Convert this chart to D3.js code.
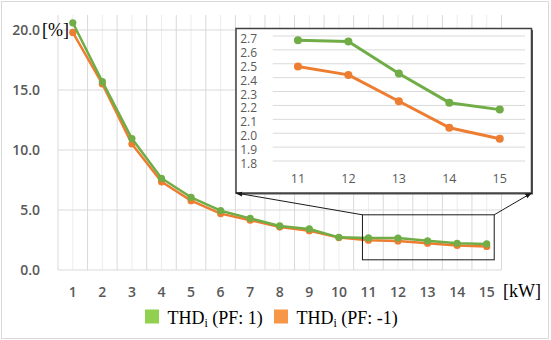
<!DOCTYPE html>
<html><head><meta charset="utf-8">
<script src="https://cdn.jsdelivr.net/npm/d3@7/dist/d3.min.js"></script>
<style>
html,body{margin:0;padding:0;background:#fff;}
svg{display:block;}
</style></head>
<body>
<svg id="chart" width="551" height="340"></svg>
<script>
const categories = ["1","2","3","4","5","6","7","8","9","10","11","12","13","14","15"];
const thdPF1  = [20.6, 15.7, 10.95, 7.64, 6.06, 4.94, 4.3, 3.67, 3.42, 2.72, 2.67, 2.66, 2.43, 2.22, 2.17];
const thdPFm1 = [19.8, 15.5, 10.5, 7.35, 5.78, 4.7, 4.15, 3.58, 3.27, 2.7, 2.48, 2.42, 2.23, 2.04, 1.96];
const yTicks = [0, 5, 10, 15, 20];
const zoomCats = ["11","12","13","14","15"];
const insetTicks = [1.8, 1.9, 2.0, 2.1, 2.2, 2.3, 2.4, 2.5, 2.6, 2.7];
const seriesNames = ["PF: 1", "PF: -1"];

const green = "#70ad47", orange = "#ed7d31";
const greenLeg = "#92d050", orangeLeg = "#f79646";
const labelFont = "'Open Sans', sans-serif";
const serif = "'Liberation Serif', 'Times New Roman', serif";

const svg = d3.select("#chart");
svg.append("rect").attr("x",1.5).attr("y",1.5).attr("width",547).attr("height",337)
  .attr("fill","#fff").attr("stroke","#d9d9d9").attr("stroke-width",1);

// main scales
const x = d3.scaleBand().domain(categories).range([58, 501.5]).paddingInner(0).paddingOuter(0);
const bw = x.bandwidth();
const cx = c => x(c) + bw/2;
const y = d3.scaleLinear().domain([0, 21.25]).range([270, 15]);

const g = svg.append("g");
categories.forEach(c => {
  g.append("line").attr("x1",cx(c)).attr("x2",cx(c)).attr("y1",y(21.25)).attr("y2",y(0))
    .attr("stroke","#ededed").attr("stroke-width",1);
});
categories.concat(["end"]).forEach((c,i) => {
  const xx = c==="end" ? x.range()[1] : x(c);
  g.append("line").attr("x1",xx).attr("x2",xx).attr("y1",y(21.25)).attr("y2",y(0))
    .attr("stroke","#d9d9d9").attr("stroke-width",1);
});
yTicks.forEach(t => {
  g.append("line").attr("x1",x.range()[0]).attr("x2",x.range()[1]).attr("y1",y(t)).attr("y2",y(t))
    .attr("stroke","#d9d9d9").attr("stroke-width",1);
  g.append("text").attr("x",40).attr("y",y(t)+5).attr("text-anchor","end")
    .attr("font-family",labelFont).attr("font-weight",600).attr("font-size",14).attr("fill","#595959")
    .text(t.toFixed(1));
});
categories.forEach(c => {
  g.append("text").attr("x",cx(c)).attr("y",297).attr("text-anchor","middle")
    .attr("font-family",labelFont).attr("font-weight",600).attr("font-size",14).attr("fill","#595959")
    .text(c);
});
g.append("text").attr("x",42).attr("y",36).attr("font-family",serif).attr("font-size",18).attr("fill","#000").text("[%]");
g.append("text").attr("x",503).attr("y",297).attr("font-family",serif).attr("font-size",18).attr("fill","#000").text("[kW]");

function drawSeries(parent, xs, ys, cats, vals, color, w, r){
  const line = d3.line().x((d,i)=>xs(cats[i])).y(d=>ys(d));
  parent.append("path").datum(vals).attr("d",line).attr("fill","none")
    .attr("stroke",color).attr("stroke-width",w).attr("stroke-linejoin","round");
  parent.selectAll(null).data(vals).enter().append("circle")
    .attr("cx",(d,i)=>xs(cats[i])).attr("cy",d=>ys(d)).attr("r",r).attr("fill",color);
}
drawSeries(g, cx, y, categories, thdPFm1, orange, 2.5, 3.6);
drawSeries(g, cx, y, categories, thdPF1, green, 2.5, 3.6);

// zoom rectangle
const zx0 = cx("11") - 6, zx1 = cx("15") + 7.5;
const zy0 = y(4.6), zy1 = y(0.85);
g.append("rect").attr("x",zx0).attr("y",zy0).attr("width",zx1-zx0).attr("height",zy1-zy0)
  .attr("fill","none").attr("stroke","#1a1a1a").attr("stroke-width",1);

// inset
const ib = {x0:236, y0:28.5, x1:531.5, y1:193};
const defs = svg.append("defs");
defs.append("marker").attr("id","arr").attr("viewBox","0 0 10 10").attr("refX",9).attr("refY",5)
  .attr("markerWidth",7).attr("markerHeight",7).attr("orient","auto-start-reverse")
  .append("path").attr("d","M0,1.5 L10,5 L0,8.5 Z").attr("fill","#1a1a1a");

svg.append("rect").attr("x",ib.x0+1.5).attr("y",ib.y0+1.5).attr("width",ib.x1-ib.x0).attr("height",ib.y1-ib.y0)
  .attr("fill","#555");
svg.append("rect").attr("x",ib.x0).attr("y",ib.y0).attr("width",ib.x1-ib.x0).attr("height",ib.y1-ib.y0)
  .attr("fill","#fff").attr("stroke","#404040").attr("stroke-width",1.5);

svg.append("line").attr("x1",zx0).attr("y1",zy0).attr("x2",ib.x0).attr("y2",ib.y1)
  .attr("stroke","#1a1a1a").attr("stroke-width",1).attr("marker-end","url(#arr)");
svg.append("line").attr("x1",zx1).attr("y1",zy0).attr("x2",ib.x1).attr("y2",ib.y1)
  .attr("stroke","#1a1a1a").attr("stroke-width",1).attr("marker-end","url(#arr)");

const ix = d3.scaleBand().domain(zoomCats).range([272.7, 525]);
const icx = c => ix(c) + ix.bandwidth()/2;
const iy = d3.scaleLinear().domain([1.8, 2.7]).range([161, 36]);
const ig = svg.append("g");
insetTicks.forEach(t => {
  ig.append("line").attr("x1",ix.range()[0]).attr("x2",ix.range()[1]).attr("y1",iy(t)).attr("y2",iy(t))
    .attr("stroke","#d9d9d9").attr("stroke-width",1);
  ig.append("text").attr("x",257).attr("y",iy(t)+7).attr("text-anchor","end")
    .attr("font-family",labelFont).attr("font-size",12).attr("fill","#595959").text(t.toFixed(1));
});
zoomCats.forEach(c => {
  ig.append("text").attr("x",icx(c)).attr("y",182.5).attr("text-anchor","middle")
    .attr("font-family",labelFont).attr("font-size",12.5).attr("fill","#595959").text(c);
});
const zi = categories.indexOf("11");
drawSeries(ig, icx, iy, zoomCats, thdPFm1.slice(zi), orange, 3, 4);
drawSeries(ig, icx, iy, zoomCats, thdPF1.slice(zi), green, 3, 4);

// legend
const legend = [{name:seriesNames[0], color:greenLeg, x:145},{name:seriesNames[1], color:orangeLeg, x:274}];
legend.forEach(l => {
  svg.append("rect").attr("x",l.x).attr("y",309.5).attr("width",14).attr("height",14).attr("fill",l.color);
  const t = svg.append("text").attr("x",l.x+22.5).attr("y",324).attr("font-family",serif).attr("font-size",18).attr("fill","#000");
  t.append("tspan").text("THD");
  t.append("tspan").attr("font-size",12).attr("dy",3).text("i");
  t.append("tspan").attr("dy",-3).text(" (" + l.name + ")");
});
</script>
</body></html>
